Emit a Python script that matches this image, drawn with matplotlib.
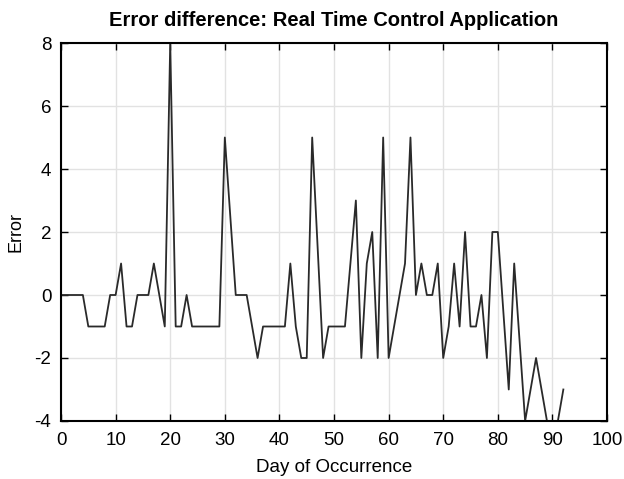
import numpy as np
import matplotlib
matplotlib.use('Agg')
import matplotlib.pyplot as plt

plt.rcParams['font.family'] = ['Liberation Sans', 'DejaVu Sans']
plt.rcParams['axes.unicode_minus'] = False

# error per day, days 0..92
days = list(range(0, 93))
error = [0, 0, 0, 0, 0, -1, -1, -1, -1, 0,
         0, 1, -1, -1, 0, 0, 0, 1, 0, -1,
         8, -1, -1, 0, -1, -1, -1, -1, -1, -1,
         5, 2.5, 0, 0, 0, -1, -2, -1, -1, -1,
         -1, -1, 1, -1, -2, -2, 5, 1.5, -2, -1,
         -1, -1, -1, 1, 3, -2, 1, 2, -2, 5,
         -2, -1, 0, 1, 5, 0, 1, 0, 0, 1,
         -2, -1, 1, -1, 2, -1, -1, 0, -2, 2,
         2, -0.5, -3, 1, -1.5, -4, -3, -2, -3, -4,
         -5, -4, -3]

xticks = list(range(0, 101, 10))
yticks = list(range(-4, 9, 2))

fig = plt.figure(figsize=(6.24, 4.79), dpi=100)
ax = fig.add_axes([0.0978, 0.1211, 0.875, 0.7891])

ax.plot(days, error, color='#2a2a2a', lw=1.3)

ax.set_xlim(0, 100)
ax.set_ylim(-4, 8)
ax.set_xticks(xticks)
ax.set_yticks(yticks)
ax.grid(True, color='#e2e2e2', lw=1.0)
ax.set_axisbelow(True)
ax.tick_params(direction='in', length=5, width=1, top=True, right=True,
               labelsize=13.5, colors='black')
ax.tick_params(axis='x', pad=8)
ax.tick_params(axis='y', pad=7)
for s in ax.spines.values():
    s.set_linewidth(1.5)
    s.set_color('black')

ax.set_xlabel('Day of Occurrence', fontsize=13.5, labelpad=7)
ax.set_ylabel('Error', fontsize=13, labelpad=7)
ax.set_title('Error difference: Real Time Control Application',
             fontsize=14.5, fontweight='bold', pad=12)

fig.savefig('out.png', dpi=100)
